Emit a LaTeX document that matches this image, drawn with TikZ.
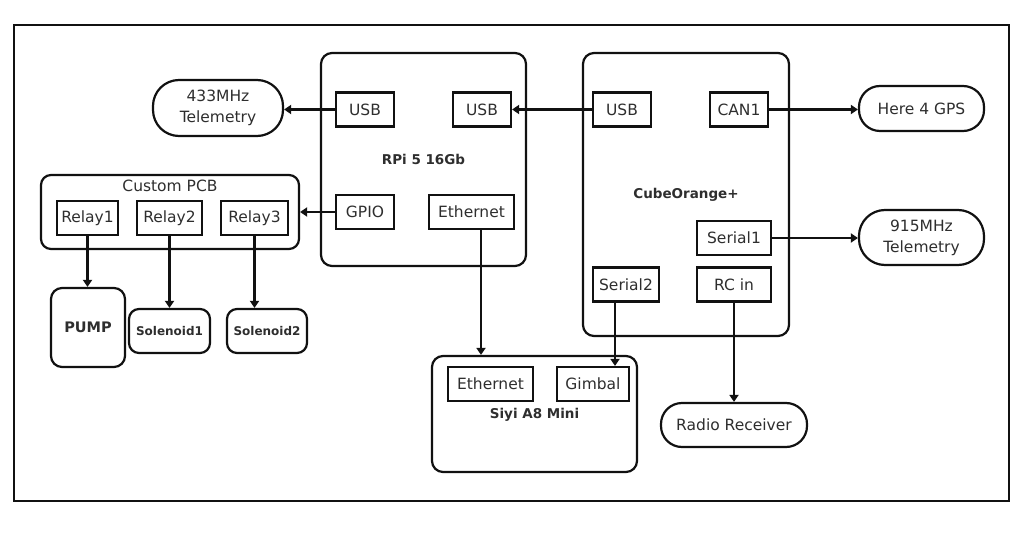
\documentclass[tikz,border=0pt]{standalone}
\usepackage{fontspec}
\setmainfont{DejaVu Sans}
\usetikzlibrary{arrows.meta}
\definecolor{txt}{HTML}{2E2E2E}
\definecolor{ln}{HTML}{111111}
\begin{document}
\begin{tikzpicture}[x=1pt,y=-1pt,
  box/.style={draw=ln,line width=2.2pt,rounded corners=11pt,inner sep=0pt,text=txt},
  port/.style={draw=ln,line width=2.2pt,inner sep=0pt,minimum height=34pt,text=txt,font=\fontsize{15.5}{18}\selectfont},
  pill/.style={draw=ln,line width=2.2pt,inner sep=0pt,text=txt,align=center,font=\fontsize{15.5}{21}\selectfont},
  title/.style={text=txt,inner sep=0pt,font=\bfseries\fontsize{13.5}{16}\selectfont},
  arr/.style={draw=ln,line width=2.4pt,-{Triangle[length=7pt,width=9pt]}}]
\useasboundingbox (0,0) rectangle (1024,545);
\draw[ln,line width=2.2pt] (14,25) rectangle (1009,501);

% big boxes
\node[box,minimum width=205pt,minimum height=213pt] (rpi) at (423.5,159.5) {};
\node[box,minimum width=206pt,minimum height=283pt] (cube) at (686,194.5) {};
\node[box,minimum width=258pt,minimum height=74pt,rounded corners=10pt] (pcb) at (170,212) {};
\node[box,minimum width=205pt,minimum height=116pt] (siyi) at (534.5,414) {};

\node[title] (rpiT) at (423.5,159) {RPi 5 16Gb};
\node[title] (cubeT) at (686,195) {CubeOrange+};
\node[title] (siyiT) at (534.5,415) {Siyi A8 Mini};
\node[text=txt,inner sep=0pt,font=\fontsize{15.5}{18}\selectfont] (pcbT) at (170,186) {Custom PCB};

% ports
\node[port,minimum width=58pt] (usbL) at (365,109.5) {USB};
\node[port,minimum width=58pt] (usbR) at (482,109.5) {USB};
\node[port,minimum width=58pt] (gpio) at (365,212) {GPIO};
\node[port,minimum width=85pt] (ethR) at (471.5,212) {Ethernet};
\node[port,minimum width=58pt] (usbC) at (622,109.5) {USB};
\node[port,minimum width=58pt] (can1) at (739,109.5) {CAN1};
\node[port,minimum width=74pt] (ser1) at (734,238) {Serial1};
\node[port,minimum width=66pt] (ser2) at (626,284.5) {Serial2};
\node[port,minimum width=74pt] (rcin) at (734,284.5) {RC in};
\node[port,minimum width=85pt] (ethS) at (490.5,384) {Ethernet};
\node[port,minimum width=72pt] (gimb) at (593,384) {Gimbal};
\node[port,minimum width=61pt] (rel1) at (87.5,218) {Relay1};
\node[port,minimum width=65pt] (rel2) at (169.5,218) {Relay2};
\node[port,minimum width=67pt] (rel3) at (254.5,218) {Relay3};

% end devices
\node[box,minimum width=74pt,minimum height=79pt,font=\bfseries\fontsize{14.5}{17}\selectfont] (pump) at (88,327.5) {PUMP};
\node[box,minimum width=81pt,minimum height=44pt,rounded corners=10pt,font=\bfseries\fontsize{12}{14}\selectfont] (sol1) at (169.5,331) {Solenoid1};
\node[box,minimum width=80pt,minimum height=44pt,rounded corners=10pt,font=\bfseries\fontsize{12}{14}\selectfont] (sol2) at (267,331) {Solenoid2};

\node[pill,minimum width=130pt,minimum height=56pt,rounded corners=26pt] (t433) at (218,108) {433MHz\\Telemetry};
\node[pill,minimum width=125pt,minimum height=45pt,rounded corners=21pt] (gps) at (921.5,108.5) {Here 4 GPS};
\node[pill,minimum width=125pt,minimum height=55pt,rounded corners=26pt] (t915) at (921.5,237.5) {915MHz\\Telemetry};
\node[pill,minimum width=146pt,minimum height=44pt,rounded corners=21pt] (radio) at (734,425) {Radio Receiver};

% connectors
\draw[arr] (usbL.west) -- (usbL.west -| t433.east);
\draw[arr] (usbC.west) -- (usbR.east);
\draw[arr] (gpio.west) -- (gpio.west -| pcb.east);
\draw[arr] (can1.east) -- (can1.east -| gps.west);
\draw[arr] (ser1.east) -- (ser1.east -| t915.west);
\draw[arr] ([xshift=9.5pt]ethR.south) -- ([xshift=9.5pt]ethR.south |- siyi.north);
\draw[arr] ([xshift=-11pt]ser2.south) -- ([xshift=-11pt]ser2.south |- gimb.north);
\draw[arr] (rcin.south) -- (rcin.south |- radio.north);
\draw[arr] (rel1.south) -- (rel1.south |- pump.north);
\draw[arr] (rel2.south) -- (rel2.south |- sol1.north);
\draw[arr] (rel3.south) -- (rel3.south |- sol2.north);
\end{tikzpicture}
\end{document}
